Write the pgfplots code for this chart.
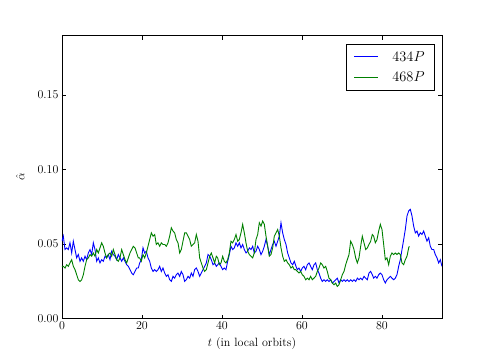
\documentclass[border=0pt]{standalone}
\usepackage{pgfplots}
\pgfplotsset{compat=1.18}

\definecolor{mplblue}{rgb}{0,0,1}
\definecolor{mplgreen}{rgb}{0,0.5,0}

\begin{document}
\begin{tikzpicture}
\useasboundingbox (-62pt,-35.5pt) rectangle (429pt,318.5pt);
\begin{axis}[
    scale only axis,
    width=380pt,
    height=283pt,
    xmin=0, xmax=95,
    ymin=0, ymax=0.19,
    xtick={0,20,40,60,80},
    ytick={0,0.05,0.10,0.15},
    scaled y ticks=false,
    yticklabel style={/pgf/number format/fixed,/pgf/number format/fixed zerofill,/pgf/number format/precision=2},
    tick align=inside,
    tick pos=both,
    major tick length=4pt,
    axis line style={line width=0.8pt},
    major tick style={black, line width=0.6pt},
    tick label style={font=\fontsize{12}{14}\selectfont},
    label style={font=\fontsize{12}{14}\selectfont},
    xlabel={$t$ (in local orbits)},
    ylabel={$\hat{\alpha}$},
    xlabel style={at={(axis description cs:0.5,-0.088)}, anchor=center},
    ylabel style={at={(axis description cs:-0.11,0.5)}, anchor=center},
    legend style={at={(0.9816,0.9696)}, anchor=north east, draw=black, line width=0.8pt,
        font=\fontsize{14.4}{16}\selectfont, inner xsep=8pt, inner ysep=5pt, row sep=5pt,
        /tikz/every odd column/.append style={column sep=12pt}},
    legend cell align=left,
]
% legend samples (coloured rules, so the colour survives inside the legend box)
\addlegendimage{legend image code/.code={\node[inner sep=0pt, anchor=west] at (0pt,0pt) {\textcolor{mplblue}{\rule[-0.45pt]{24pt}{0.9pt}}};}}
\addlegendentry{$434P$}
\addlegendimage{legend image code/.code={\node[inner sep=0pt, anchor=west] at (0pt,0pt) {\textcolor{mplgreen}{\rule[-0.45pt]{24pt}{0.9pt}}};}}
\addlegendentry{$468P$}
% 434P
\addplot[color=mplblue, line width=0.9pt, forget plot] coordinates {
(0,0.0519)(0.33,0.0553)(0.75,0.0463)(1.17,0.0474)(1.58,0.0463)(2.0,0.0508)(2.42,0.0440)(2.83,0.0519)
(3.25,0.0463)(3.67,0.0407)(4.08,0.0429)(4.5,0.0384)(4.92,0.0407)(5.33,0.0384)(5.75,0.0418)(6.17,0.0395)
(6.58,0.0440)(7.0,0.0463)(7.42,0.0429)(7.83,0.0508)(8.25,0.0463)(8.67,0.0384)(9.08,0.0407)(9.5,0.0373)
(9.92,0.0395)(10.33,0.0384)(10.75,0.0418)(11.17,0.0407)(11.58,0.0429)(12.0,0.0395)(12.42,0.0452)(12.83,0.0429)
(13.25,0.0418)(13.67,0.0395)(14.08,0.0429)(14.5,0.0407)(14.92,0.0384)(15.33,0.0407)(15.75,0.0384)(16.17,0.0361)
(16.58,0.0350)(17.0,0.0328)(17.42,0.0305)(17.83,0.0294)(18.25,0.0316)(18.67,0.0339)(19.08,0.0339)(19.42,0.0373)
(19.83,0.0395)(20.25,0.0474)(20.67,0.0440)(21.08,0.0452)(21.5,0.0407)(21.92,0.0384)(22.33,0.0339)(22.75,0.0316)
(23.17,0.0328)(23.58,0.0316)(24.0,0.0328)(24.42,0.0350)(24.83,0.0316)(25.25,0.0339)(25.67,0.0305)(26.08,0.0283)
(26.5,0.0294)(26.92,0.0260)(27.33,0.0249)(27.75,0.0283)(28.17,0.0271)(28.58,0.0294)(29.0,0.0305)(29.42,0.0283)
(29.83,0.0316)(30.25,0.0294)(30.67,0.0249)(31.08,0.0260)(31.5,0.0283)(31.92,0.0271)(32.33,0.0305)(32.75,0.0283)
(33.17,0.0328)(33.58,0.0339)(34.0,0.0316)(34.42,0.0283)(34.83,0.0305)(35.25,0.0328)(35.67,0.0350)(36.08,0.0373)
(36.5,0.0429)(36.92,0.0418)(37.33,0.0395)(37.75,0.0361)(38.17,0.0373)(38.58,0.0350)(38.92,0.0361)(39.33,0.0373)
(39.75,0.0350)(40.17,0.0328)(40.58,0.0339)(41.0,0.0328)(41.42,0.0384)(41.83,0.0429)(42.25,0.0485)(42.67,0.0463)
(43.08,0.0474)(43.5,0.0508)(43.92,0.0485)(44.33,0.0508)(44.75,0.0474)(45.17,0.0497)(45.58,0.0463)(46.0,0.0440)
(46.42,0.0452)(46.83,0.0474)(47.25,0.0463)(47.67,0.0485)(48.08,0.0440)(48.5,0.0452)(48.92,0.0485)(49.33,0.0463)
(49.75,0.0429)(50.17,0.0452)(50.58,0.0485)(51.0,0.0530)(51.42,0.0485)(51.83,0.0429)(52.25,0.0463)(52.67,0.0497)
(53.08,0.0519)(53.5,0.0485)(53.92,0.0519)(54.33,0.0553)(54.75,0.0643)(55.17,0.0575)(55.58,0.0530)(56.0,0.0497)
(56.42,0.0440)(56.83,0.0407)(57.25,0.0373)(57.67,0.0361)(58.08,0.0384)(58.5,0.0350)(58.83,0.0328)(59.25,0.0339)
(59.67,0.0316)(60.08,0.0339)(60.5,0.0350)(60.92,0.0328)(61.33,0.0361)(61.75,0.0373)(62.17,0.0350)(62.58,0.0328)
(63.0,0.0361)(63.42,0.0373)(63.83,0.0328)(64.25,0.0305)(64.67,0.0271)(65.08,0.0249)(65.5,0.0260)(65.92,0.0249)
(66.33,0.0260)(66.75,0.0249)(67.17,0.0260)(67.58,0.0238)(68.0,0.0249)(68.42,0.0260)(68.83,0.0271)(69.25,0.0238)
(69.67,0.0260)(70.08,0.0249)(70.5,0.0260)(70.92,0.0249)(71.33,0.0260)(71.75,0.0249)(72.17,0.0260)(72.58,0.0249)
(73.0,0.0260)(73.42,0.0249)(73.83,0.0271)(74.25,0.0260)(74.67,0.0271)(75.08,0.0260)(75.5,0.0283)(75.92,0.0271)
(76.33,0.0260)(76.75,0.0305)(77.17,0.0316)(77.58,0.0294)(77.92,0.0271)(78.33,0.0283)(78.75,0.0271)(79.17,0.0294)
(79.58,0.0305)(80.0,0.0294)(80.42,0.0260)(80.83,0.0238)(81.25,0.0260)(81.67,0.0271)(82.08,0.0283)(82.5,0.0271)
(82.92,0.0260)(83.33,0.0271)(83.75,0.0294)(84.17,0.0350)(84.58,0.0395)(85.0,0.0463)(85.42,0.0530)(85.83,0.0598)
(86.25,0.0688)(86.67,0.0722)(87.08,0.0733)(87.5,0.0688)(87.92,0.0620)(88.33,0.0575)(88.75,0.0587)(89.17,0.0553)
(89.58,0.0575)(90.0,0.0564)(90.42,0.0587)(90.83,0.0553)(91.25,0.0519)(91.67,0.0542)(92.08,0.0485)(92.5,0.0463)
(92.92,0.0463)(93.33,0.0429)(93.75,0.0407)(94.17,0.0373)(94.58,0.0395)(95.0,0.0350)
};
% 468P
\addplot[color=mplgreen, line width=0.9pt, forget plot] coordinates {
(0,0.0350)(0.33,0.0350)(0.75,0.0339)(1.17,0.0361)(1.58,0.0350)(2.0,0.0373)(2.42,0.0395)(2.83,0.0350)
(3.25,0.0328)(3.67,0.0294)(4.08,0.0260)(4.5,0.0249)(4.92,0.0260)(5.33,0.0294)(5.75,0.0350)(6.17,0.0395)
(6.58,0.0407)(7.0,0.0429)(7.42,0.0418)(7.83,0.0440)(8.25,0.0418)(8.67,0.0463)(9.08,0.0440)(9.5,0.0474)
(9.92,0.0508)(10.33,0.0485)(10.75,0.0440)(11.17,0.0407)(11.58,0.0429)(12.0,0.0440)(12.42,0.0418)(12.83,0.0463)
(13.25,0.0429)(13.67,0.0395)(14.08,0.0384)(14.5,0.0407)(14.92,0.0463)(15.33,0.0429)(15.75,0.0395)(16.17,0.0373)
(16.58,0.0407)(17.0,0.0440)(17.42,0.0463)(17.83,0.0485)(18.25,0.0474)(18.67,0.0440)(19.08,0.0407)(19.42,0.0407)
(19.83,0.0384)(20.25,0.0429)(20.67,0.0407)(21.08,0.0440)(21.5,0.0485)(21.92,0.0530)(22.33,0.0575)(22.75,0.0553)
(23.17,0.0564)(23.58,0.0497)(24.0,0.0508)(24.42,0.0485)(24.83,0.0508)(25.25,0.0497)(25.67,0.0497)(26.08,0.0485)
(26.5,0.0508)(26.92,0.0553)(27.33,0.0609)(27.75,0.0587)(28.17,0.0575)(28.58,0.0530)(29.0,0.0508)(29.42,0.0440)
(29.83,0.0463)(30.25,0.0519)(30.67,0.0575)(31.08,0.0575)(31.5,0.0553)(31.92,0.0530)(32.33,0.0485)(32.75,0.0497)
(33.17,0.0508)(33.58,0.0564)(34.0,0.0519)(34.42,0.0407)(34.83,0.0373)(35.25,0.0339)(35.67,0.0316)(36.08,0.0328)
(36.5,0.0373)(36.92,0.0418)(37.33,0.0440)(37.75,0.0407)(38.17,0.0373)(38.58,0.0418)(38.92,0.0407)(39.33,0.0361)
(39.75,0.0373)(40.17,0.0418)(40.58,0.0384)(41.0,0.0373)(41.42,0.0395)(41.83,0.0440)(42.25,0.0519)(42.67,0.0508)
(43.08,0.0530)(43.5,0.0564)(43.92,0.0519)(44.33,0.0530)(44.75,0.0575)(45.17,0.0632)(45.58,0.0575)(46.0,0.0508)
(46.42,0.0452)(46.83,0.0429)(47.25,0.0418)(47.67,0.0407)(48.08,0.0440)(48.5,0.0530)(48.92,0.0564)(49.33,0.0643)
(49.75,0.0620)(50.17,0.0654)(50.58,0.0632)(51.0,0.0553)(51.42,0.0485)(51.83,0.0418)(52.25,0.0429)(52.67,0.0474)
(53.08,0.0553)(53.5,0.0575)(53.92,0.0598)(54.33,0.0553)(54.75,0.0474)(55.17,0.0418)(55.58,0.0384)(56.0,0.0395)
(56.42,0.0373)(56.83,0.0361)(57.25,0.0339)(57.67,0.0350)(58.08,0.0328)(58.42,0.0328)(58.83,0.0316)(59.25,0.0305)
(59.67,0.0316)(60.08,0.0294)(60.5,0.0283)(60.92,0.0260)(61.33,0.0271)(61.75,0.0260)(62.17,0.0283)(62.58,0.0260)
(63.0,0.0271)(63.42,0.0283)(63.83,0.0316)(64.25,0.0339)(64.67,0.0373)(65.08,0.0361)(65.5,0.0339)(65.92,0.0350)
(66.33,0.0316)(66.75,0.0271)(67.17,0.0260)(67.58,0.0238)(68.0,0.0226)(68.42,0.0238)(68.83,0.0215)(69.25,0.0226)
(69.67,0.0260)(70.08,0.0294)(70.5,0.0316)(70.92,0.0361)(71.33,0.0395)(71.75,0.0429)(72.17,0.0519)(72.58,0.0497)
(73.0,0.0463)(73.42,0.0407)(73.83,0.0373)(74.25,0.0407)(74.67,0.0485)(75.08,0.0553)(75.5,0.0508)(75.92,0.0463)
(76.33,0.0474)(76.75,0.0497)(77.17,0.0519)(77.58,0.0564)(77.92,0.0553)(78.33,0.0508)(78.75,0.0530)(79.17,0.0587)
(79.58,0.0632)(80.0,0.0598)(80.42,0.0497)(80.83,0.0395)(81.25,0.0407)(81.67,0.0361)(82.08,0.0418)(82.5,0.0440)
(82.92,0.0429)(83.33,0.0440)(83.75,0.0429)(84.17,0.0440)(84.58,0.0429)(85.0,0.0373)(85.42,0.0361)(85.83,0.0395)
(86.25,0.0418)(86.67,0.0474)(86.83,0.0485)
};
\end{axis}
\end{tikzpicture}
\end{document}
